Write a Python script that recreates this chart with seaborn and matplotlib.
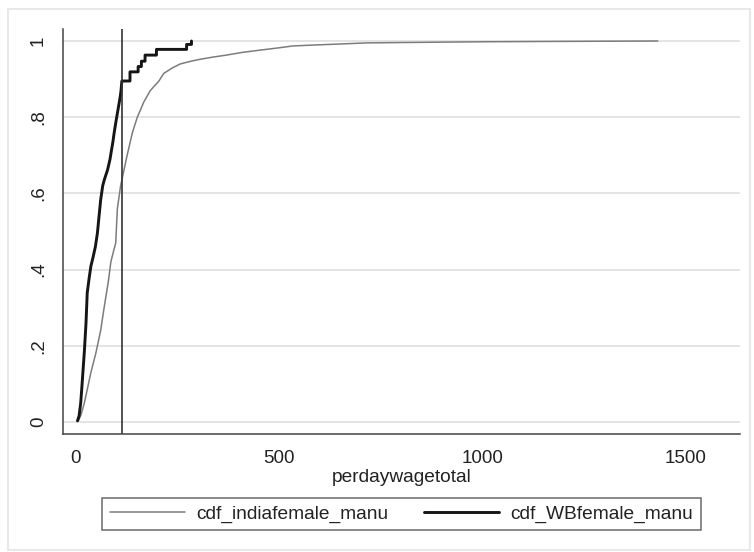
import numpy as np
import pandas as pd
import matplotlib
matplotlib.use("Agg")
import matplotlib.pyplot as plt
from matplotlib.patches import Rectangle
import seaborn as sns

# CDF of per-day wage, India female manufacturing
india_wage = [8, 15, 23, 31, 39, 51, 63, 70, 76, 82, 88, 95, 100, 104, 108, 112,
              120, 128, 141, 153, 169, 185, 206, 218, 240, 259, 285, 307, 340,
              372, 410, 454, 500, 535, 600, 717, 800, 1000, 1200, 1431]
india_cdf = [0.003, 0.02, 0.05, 0.09, 0.13, 0.18, 0.24, 0.29, 0.33, 0.37, 0.42,
             0.45, 0.47, 0.56, 0.59, 0.62, 0.66, 0.70, 0.76, 0.80, 0.84, 0.87,
             0.895, 0.915, 0.93, 0.94, 0.947, 0.952, 0.958, 0.963, 0.97, 0.976,
             0.982, 0.987, 0.99, 0.995, 0.996, 0.998, 0.999, 1.0]

# CDF of per-day wage, West Bengal female manufacturing (ties give the flat steps)
wb_wage = [6, 10, 14, 17, 20, 23, 27, 30, 35, 39, 44, 50, 55, 59, 63, 68, 72,
           80, 86, 89, 93, 96, 100, 104, 108, 111, 113, 115, 135, 135, 155, 155,
           163, 163, 172, 172, 200, 200, 274, 274, 286, 286]
wb_cdf = [0.003, 0.016, 0.05, 0.094, 0.14, 0.186, 0.26, 0.339, 0.38, 0.409,
          0.431, 0.46, 0.496, 0.54, 0.583, 0.62, 0.636, 0.662, 0.69, 0.71, 0.735,
          0.758, 0.785, 0.81, 0.835, 0.854, 0.87, 0.895, 0.895, 0.919, 0.919,
          0.933, 0.933, 0.947, 0.947, 0.963, 0.963, 0.978, 0.978, 0.991, 0.991,
          1.0]

cutoff = 115
x_ticks = [0, 500, 1000, 1500]
y_ticks = [0, 0.2, 0.4, 0.6, 0.8, 1.0]
y_tick_labels = ["0", ".2", ".4", ".6", ".8", "1"]

india = pd.DataFrame({"wage": india_wage, "cdf": india_cdf})
wb = pd.DataFrame({"wage": wb_wage, "cdf": wb_cdf})

sns.set_style("white")
plt.rcParams["font.family"] = ["Liberation Sans", "DejaVu Sans"]

fig = plt.figure(figsize=(7.54, 5.52), dpi=100)
ax = fig.add_axes([63 / 754, 1 - 434 / 552, (740 - 63) / 754, (434 - 29) / 552])

# light frame around the whole graph region
fig.patches.append(Rectangle((8 / 754, 1 - 550 / 552), 742 / 754, 541 / 552,
                             transform=fig.transFigure, fill=False,
                             edgecolor="#e8e8e8", lw=1.5))

for y in y_ticks:
    ax.axhline(y, color="#e2e2e2", lw=1.3, zorder=0)

sns.lineplot(data=india, x="wage", y="cdf", ax=ax, color="#7c7c7c", lw=1.1,
             estimator=None, sort=False,
             label="cdf_indiafemale_manu", legend=False)
sns.lineplot(data=wb, x="wage", y="cdf", ax=ax, color="#151515", lw=2.1,
             estimator=None, sort=False,
             label="cdf_WBfemale_manu", legend=False)
ax.axvline(cutoff, color="#333333", lw=1.2)

ax.set_xlim(-29.5, 1633)
ax.set_ylim(-0.0315, 1.0315)
ax.set_xticks(x_ticks)
ax.set_yticks(y_ticks)
ax.set_yticklabels(y_tick_labels, rotation=90, va="center")
ax.tick_params(axis="both", length=6, width=1, color="#444444", labelsize=13.5,
               labelcolor="#222222", pad=5.5, direction="out")
ax.set_xlabel("perdaywagetotal", fontsize=13.8, color="#222222", labelpad=1.5)
ax.set_ylabel("")

for side in ["top", "right"]:
    ax.spines[side].set_visible(False)
for side in ["left", "bottom"]:
    ax.spines[side].set_color("#444444")
    ax.spines[side].set_linewidth(1.1)

handles, labels = ax.get_legend_handles_labels()
leg = fig.legend(handles, labels, ncol=2, loc="center",
                 bbox_to_anchor=(401.5 / 754, 1 - 514 / 552),
                 fontsize=13.8, frameon=True, fancybox=False,
                 handlelength=3.9, handletextpad=0.6, borderaxespad=0,
                 borderpad=0.4, columnspacing=1.85)
leg.get_frame().set_edgecolor("#444444")
leg.get_frame().set_linewidth(1.1)
for t in leg.get_texts():
    t.set_color("#222222")

fig.savefig("out.png", dpi=100)
